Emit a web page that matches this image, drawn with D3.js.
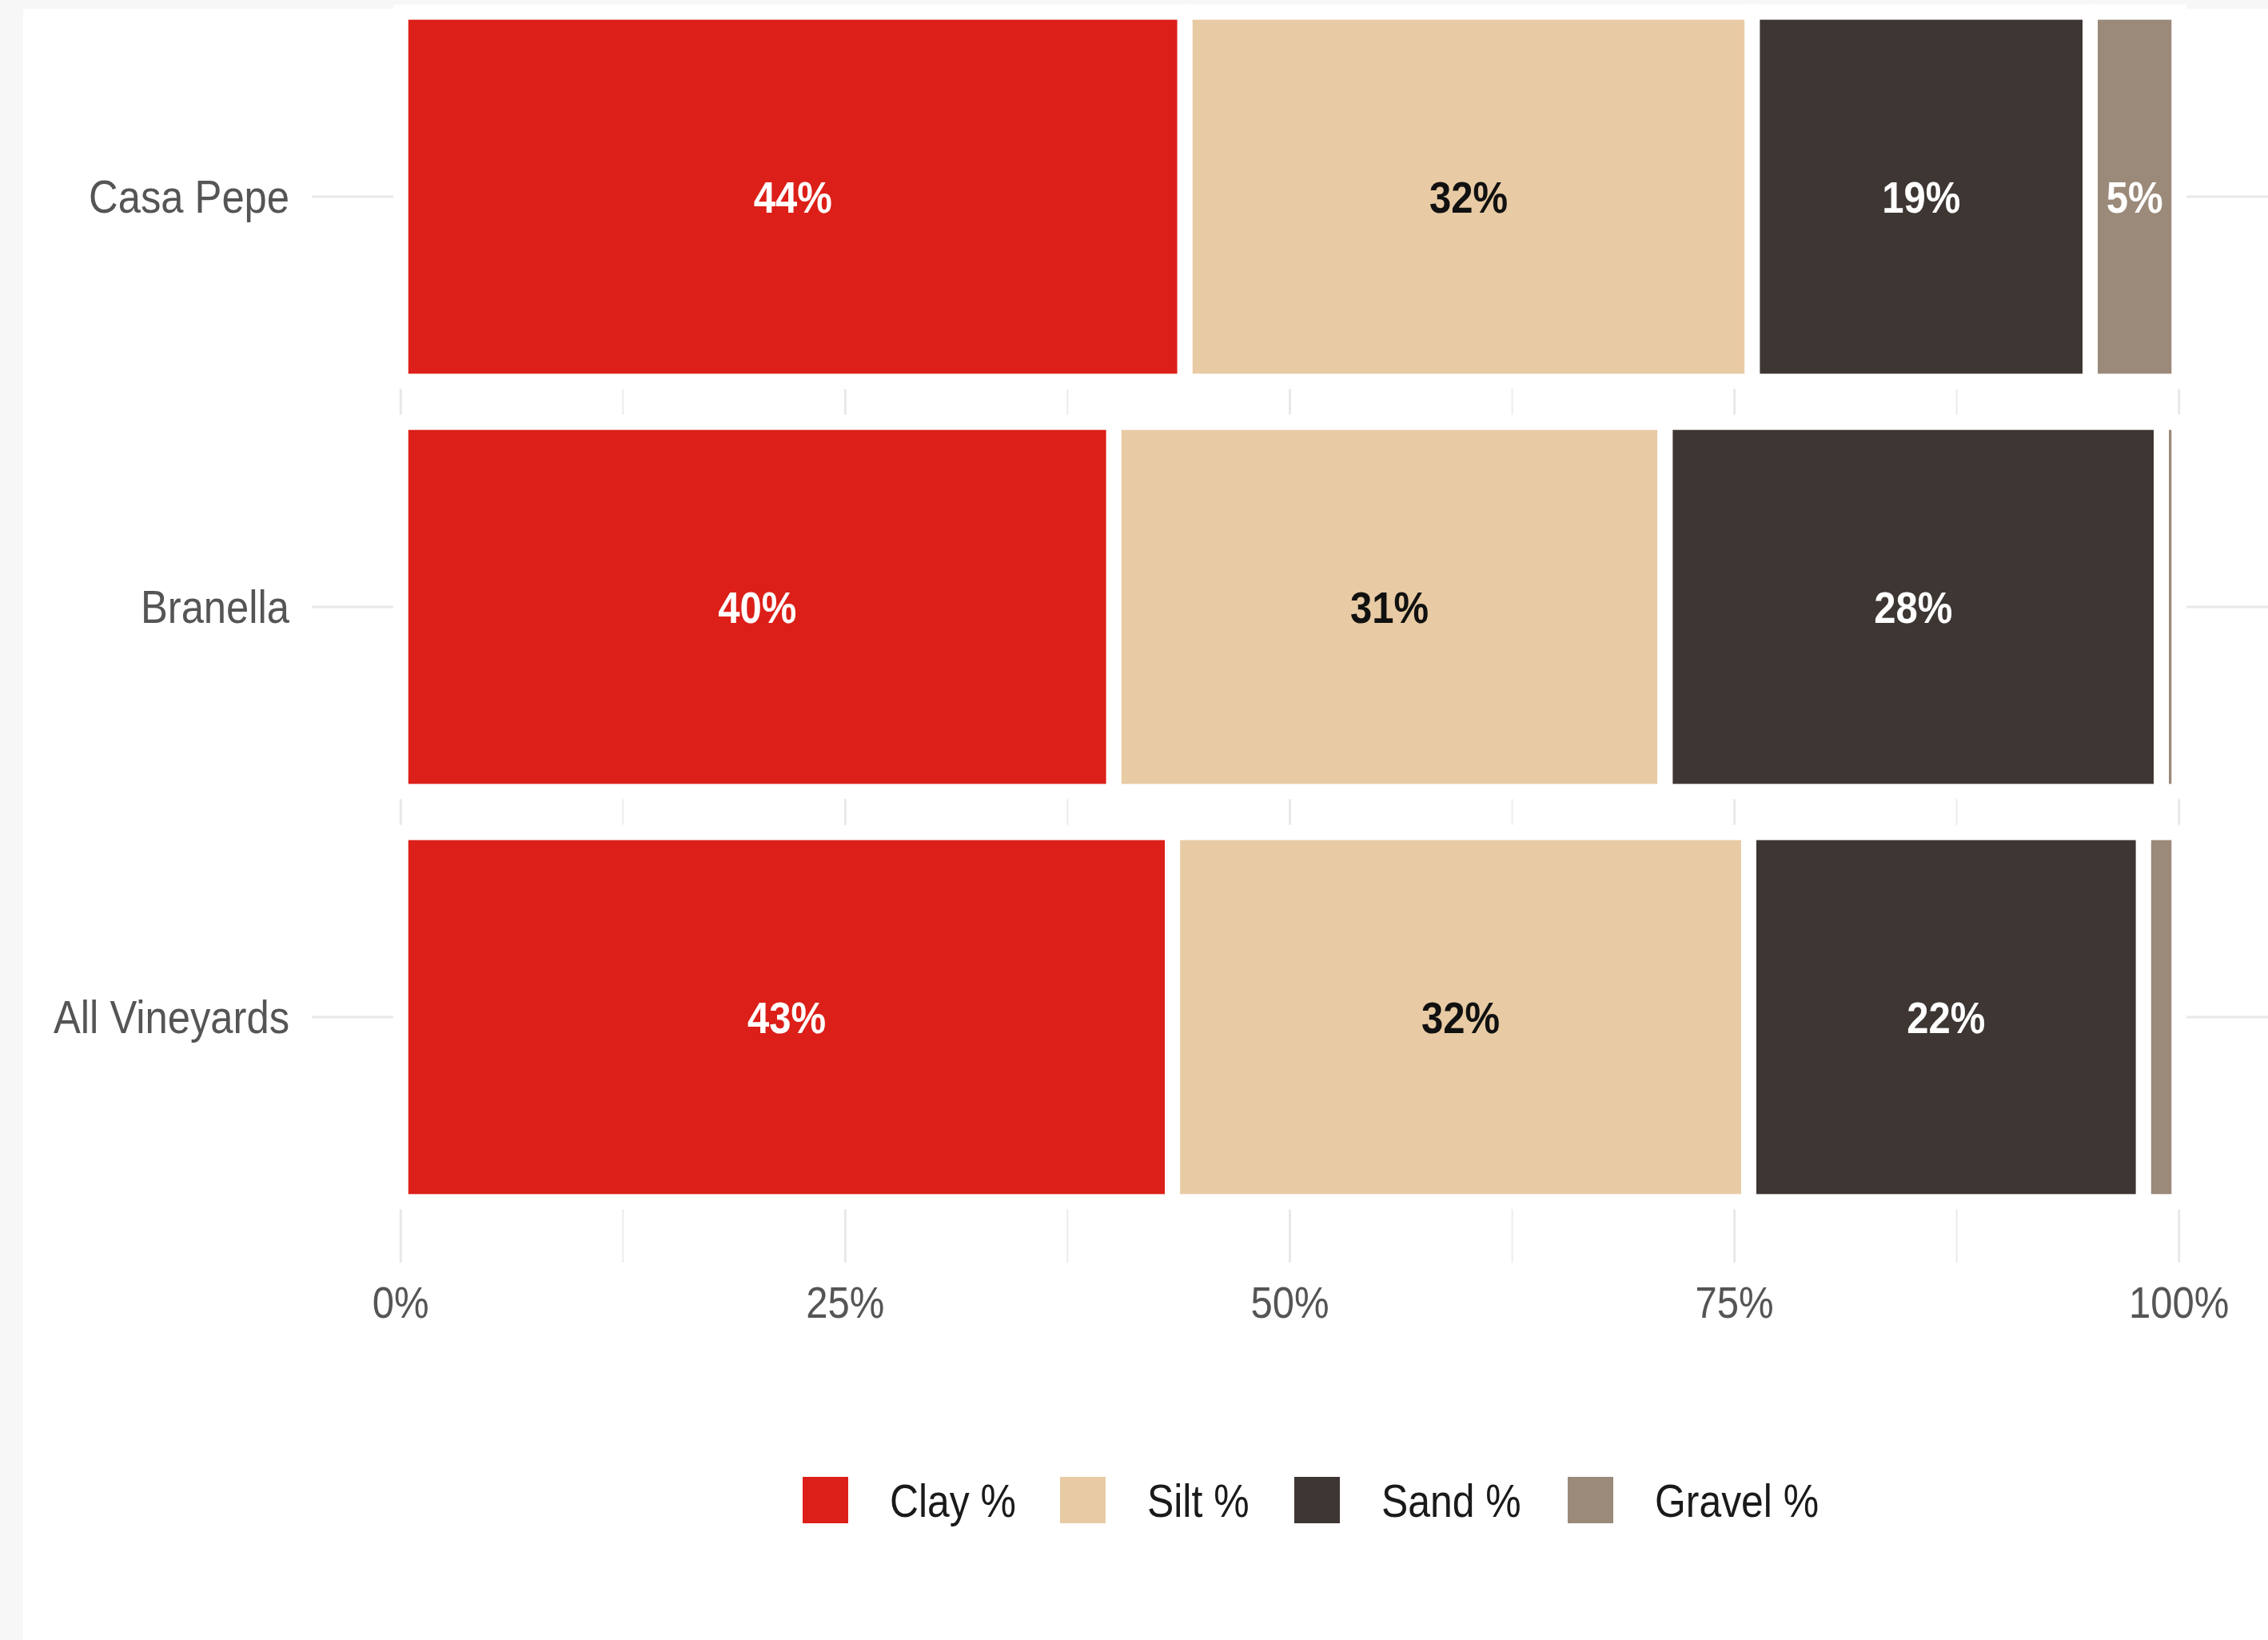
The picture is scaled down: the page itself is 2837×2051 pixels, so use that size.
<!DOCTYPE html>
<html lang="en">
<head>
    <meta charset="UTF-8">
    <title>Soil composition by vineyard</title>
    <style>
        html, body {
            margin: 0;
            padding: 0;
            width: 100%;
            height: 100%;
            background-color: #f7f7f7;
            font-family: "Liberation Sans", Arial, sans-serif;
            overflow: hidden;
        }

        #chart {
            width: 2837px;
            height: 2051px;
        }
    </style>
</head>
<body>
    <div id="chart"></div>

    <script src="https://cdn.jsdelivr.net/npm/d3@7/dist/d3.min.js"></script>
    <script>
        // values, percent of each vineyard's soil
        const vineyards = ['Casa Pepe', 'Branella', 'All Vineyards'];
        const soilTypes = ['Clay %', 'Silt %', 'Sand %', 'Gravel %'];
        const clayPct = [44.1, 40.1, 43.4];
        const siltPct = [31.9, 31.0, 32.4];
        const sandPct = [19.0, 27.9, 22.2];
        const gravelPct = [5.0, 1.0, 2.0];
        const xTicks = [0, 0.25, 0.5, 0.75, 1];
        const xTickLabels = ['0%', '25%', '50%', '75%', '100%'];
        const xMinorTicks = [0.125, 0.375, 0.625, 0.875];

        const soilColors = ['#dc1f18', '#e8cba4', '#3d3633', '#9b8979'];
        const labelColors = ['#ffffff', '#111111', '#ffffff', '#ffffff'];

        const width = 2837;
        const height = 2051;
        const squeeze = 0.875;   // the source picture is a bit narrower than tall

        const svg = d3.select('#chart')
            .append('svg')
            .attr('width', width)
            .attr('height', height);

        svg.append('rect')
            .attr('x', 29)
            .attr('y', 11)
            .attr('width', width - 29)
            .attr('height', height - 11)
            .attr('fill', '#ffffff');

        // top of the panel sits above the picture, so grid starts under the first bar
        const panel = { left: 390, right: 2837, top: 40, bottom: 1579 };

        const x = d3.scaleLinear()
            .domain([-0.05, 1.05])
            .range([panel.left, panel.right]);

        const y = d3.scaleBand()
            .domain(vineyards)
            .range([-10.5, 1528.5])
            .paddingInner(0.1)
            .paddingOuter(0.05);

        const rows = vineyards.map((name, i) => ({
            name: name,
            'Clay %': clayPct[i],
            'Silt %': siltPct[i],
            'Sand %': sandPct[i],
            'Gravel %': gravelPct[i]
        }));

        const stacked = d3.stack()
            .keys(soilTypes)
            .offset(d3.stackOffsetExpand)(rows);

        const grid = svg.append('g').attr('class', 'grid');

        grid.selectAll('line.minor')
            .data(xMinorTicks)
            .enter()
            .append('line')
            .attr('class', 'minor')
            .attr('x1', d => x(d))
            .attr('x2', d => x(d))
            .attr('y1', panel.top)
            .attr('y2', panel.bottom)
            .attr('stroke', '#ececec')
            .attr('stroke-width', 2);

        grid.selectAll('line.major-x')
            .data(xTicks)
            .enter()
            .append('line')
            .attr('class', 'major-x')
            .attr('x1', d => x(d))
            .attr('x2', d => x(d))
            .attr('y1', panel.top)
            .attr('y2', panel.bottom)
            .attr('stroke', '#e8e8e8')
            .attr('stroke-width', 3);

        grid.selectAll('line.major-y')
            .data(vineyards)
            .enter()
            .append('line')
            .attr('class', 'major-y')
            .attr('x1', panel.left)
            .attr('x2', panel.right)
            .attr('y1', d => y(d) + y.bandwidth() / 2)
            .attr('y2', d => y(d) + y.bandwidth() / 2)
            .attr('stroke', '#e8e8e8')
            .attr('stroke-width', 3);

        const layers = svg.selectAll('g.layer')
            .data(stacked)
            .enter()
            .append('g')
            .attr('class', 'layer')
            .attr('fill', (d, i) => soilColors[i]);

        layers.selectAll('rect')
            .data(d => d)
            .enter()
            .append('rect')
            .attr('x', d => x(d[0]))
            .attr('y', d => y(d.data.name))
            .attr('width', d => x(d[1]) - x(d[0]))
            .attr('height', y.bandwidth())
            .attr('stroke', '#ffffff')
            .attr('stroke-width', 19);

        layers.each(function(layer, li) {
            d3.select(this)
                .selectAll('text')
                .data(layer.filter(d => d.data[layer.key] >= 4))
                .enter()
                .append('text')
                .attr('transform', d => `translate(${x((d[0] + d[1]) / 2)},${y(d.data.name) + y.bandwidth() / 2}) scale(${squeeze},1)`)
                .attr('text-anchor', 'middle')
                .attr('dominant-baseline', 'central')
                .attr('font-size', 56)
                .attr('font-weight', 'bold')
                .attr('fill', labelColors[li])
                .text(d => Math.round(d.data[layer.key]) + '%');
        });

        svg.selectAll('text.y-label')
            .data(vineyards)
            .enter()
            .append('text')
            .attr('class', 'y-label')
            .attr('transform', d => `translate(362,${y(d) + y.bandwidth() / 2}) scale(0.89,1)`)
            .attr('text-anchor', 'end')
            .attr('dominant-baseline', 'central')
            .attr('font-size', 57)
            .attr('fill', '#555555')
            .text(d => d);

        svg.selectAll('text.x-label')
            .data(xTicks)
            .enter()
            .append('text')
            .attr('class', 'x-label')
            .attr('transform', d => `translate(${x(d)},1628) scale(${squeeze},1)`)
            .attr('text-anchor', 'middle')
            .attr('dominant-baseline', 'central')
            .attr('font-size', 56)
            .attr('fill', '#555555')
            .text((d, i) => xTickLabels[i]);

        const legendX = [1004, 1326, 1619, 1961];

        const legend = svg.selectAll('g.legend-item')
            .data(soilTypes)
            .enter()
            .append('g')
            .attr('class', 'legend-item')
            .attr('transform', (d, i) => `translate(${legendX[i]},1847)`);

        legend.append('rect')
            .attr('width', 57)
            .attr('height', 58)
            .attr('fill', (d, i) => soilColors[i]);

        legend.append('text')
            .attr('transform', `translate(109,30) scale(${squeeze},1)`)
            .attr('dominant-baseline', 'central')
            .attr('font-size', 57)
            .attr('fill', '#1a1a1a')
            .text(d => d);
    </script>
</body>
</html>
